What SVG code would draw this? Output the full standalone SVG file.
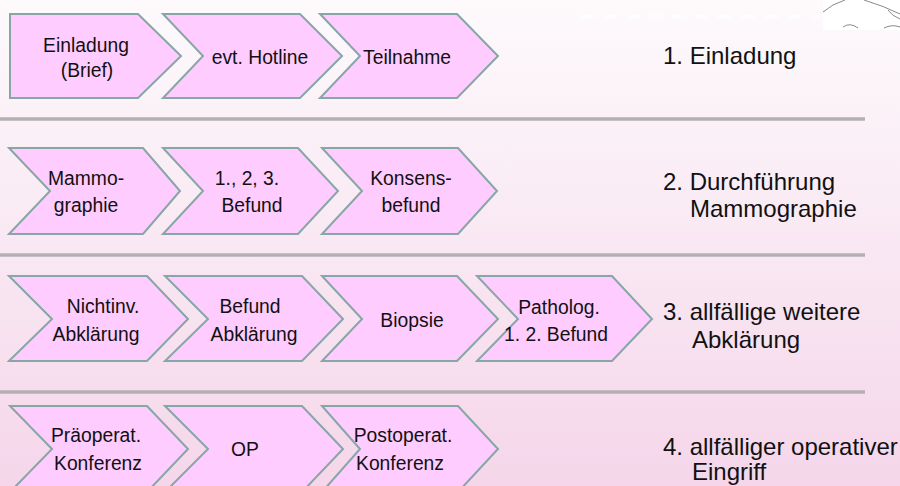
<svg xmlns="http://www.w3.org/2000/svg" width="900" height="486" viewBox="0 0 900 486">
<defs>
<linearGradient id="bg" x1="0" y1="0" x2="0" y2="1">
<stop offset="0" stop-color="#fdfafc"/>
<stop offset="0.5" stop-color="#f9e8f3"/>
<stop offset="1" stop-color="#f5d6ea"/>
</linearGradient>
<style>
.sh{fill:#ffccff;stroke:#87a6a6;stroke-width:2;stroke-linejoin:miter}
.bt{font-family:"Liberation Sans",Arial,sans-serif;font-size:21px;fill:#111;text-anchor:middle}
.lb{font-family:"Liberation Sans",Arial,sans-serif;font-size:24px;fill:#111}
.sep{stroke:#b3b0b2;stroke-width:3.5}
.deco{fill:none;stroke:#8a8a8a;stroke-width:1}
</style>
</defs>
<rect x="0" y="0" width="900" height="486" fill="url(#bg)"/>
<line x1="580" y1="17" x2="820" y2="17" stroke="#ffffff" stroke-width="4" stroke-dasharray="14,9" opacity="0.6"/>
<g id="decoration">
<rect x="823" y="0" width="77" height="30" fill="#ffffff"/>
<path class="deco" d="M823,12 Q832,4 845,0"/>
<path class="deco" d="M843,27 Q850,22 858,28"/>
<path class="deco" d="M864,0 Q884,6 900,14"/>
<path class="deco" d="M888,10 Q892,16 900,19"/>
<path class="deco" d="M884,28 Q892,24 900,27"/>
</g>
<g id="separators">
<line class="sep" x1="0" y1="119" x2="865" y2="119"/>
<line class="sep" x1="0" y1="255" x2="865" y2="255"/>
<line class="sep" x1="0" y1="392" x2="865" y2="392"/>
</g>

<g id="einladung-brief">
<polygon class="sh" points="10,14 138,14 181,56 138,98 10,98"/>
<text class="bt" transform="matrix(0.92 0 0 1 86 52)">Einladung</text>
<text class="bt" transform="matrix(0.92 0 0 1 87 77)">(Brief)</text>
</g>
<g id="hotline">
<polygon class="sh" points="163,14 300,14 342,56 300,98 163,98 203,56"/>
<text class="bt" transform="matrix(0.92 0 0 1 260 64)">evt. Hotline</text>
</g>
<g id="teilnahme">
<polygon class="sh" points="320,14 457,14 498,56 457,98 320,98 360,56"/>
<text class="bt" transform="matrix(0.92 0 0 1 407 64)">Teilnahme</text>
</g>
<g id="label1"><text class="lb" x="663" y="64">1. Einladung</text></g>

<g id="mammographie">
<polygon class="sh" points="9,148 143,148 180,191 143,234 9,234 50,191"/>
<text class="bt" transform="matrix(0.92 0 0 1 86 185)">Mammo-</text>
<text class="bt" transform="matrix(0.92 0 0 1 86 212)">graphie</text>
</g>
<g id="befund123">
<polygon class="sh" points="163,148 298,148 338,191 298,234 163,234 203,191"/>
<text class="bt" transform="matrix(0.92 0 0 1 247 185)">1., 2, 3.</text>
<text class="bt" transform="matrix(0.92 0 0 1 252 212)">Befund</text>
</g>
<g id="konsensbefund">
<polygon class="sh" points="322,148 458,148 497,191 458,234 322,234 362,191"/>
<text class="bt" transform="matrix(0.92 0 0 1 411 185)">Konsens-</text>
<text class="bt" transform="matrix(0.92 0 0 1 411 212)">befund</text>
</g>
<g id="label2">
<text class="lb" x="663" y="190">2. Durchführung</text>
<text class="lb" x="690" y="217">Mammographie</text>
</g>

<g id="nichtinv">
<polygon class="sh" points="9,276 147,276 188,319 147,361 9,361 52,319"/>
<text class="bt" transform="matrix(0.92 0 0 1 103 313)">Nichtinv.</text>
<text class="bt" transform="matrix(0.92 0 0 1 96 341)">Abklärung</text>
</g>
<g id="befund-abklaerung">
<polygon class="sh" points="165,276 302,276 343,319 302,361 165,361 208,319"/>
<text class="bt" transform="matrix(0.92 0 0 1 250 313)">Befund</text>
<text class="bt" transform="matrix(0.92 0 0 1 254 341)">Abklärung</text>
</g>
<g id="biopsie">
<polygon class="sh" points="322,276 457,276 498,319 457,361 322,361 362,319"/>
<text class="bt" transform="matrix(0.92 0 0 1 412 327)">Biopsie</text>
</g>
<g id="patholog">
<polygon class="sh" points="477,276 612,276 652,319 612,361 477,361 518,319"/>
<text class="bt" transform="matrix(0.92 0 0 1 559 314)">Patholog.</text>
<text class="bt" transform="matrix(0.92 0 0 1 556 341)">1. 2. Befund</text>
</g>
<g id="label3">
<text class="lb" x="663" y="320">3. allfällige weitere</text>
<text class="lb" x="692" y="348">Abklärung</text>
</g>

<g id="praeoperat">
<polygon class="sh" points="10,406 147,406 188,449 147,492 10,492 52,449"/>
<text class="bt" transform="matrix(0.92 0 0 1 96 442)">Präoperat.</text>
<text class="bt" transform="matrix(0.92 0 0 1 98 470)">Konferenz</text>
</g>
<g id="op">
<polygon class="sh" points="165,406 302,406 343,449 302,492 165,492 208,449"/>
<text class="bt" transform="matrix(0.92 0 0 1 245 456)">OP</text>
</g>
<g id="postoperat">
<polygon class="sh" points="322,406 458,406 498,449 458,492 322,492 360,449"/>
<text class="bt" transform="matrix(0.92 0 0 1 403 442)">Postoperat.</text>
<text class="bt" transform="matrix(0.92 0 0 1 400 470)">Konferenz</text>
</g>
<g id="label4">
<text class="lb" x="663" y="455">4. allfälliger operativer</text>
<text class="lb" x="692" y="480">Eingriff</text>
</g>
</svg>
